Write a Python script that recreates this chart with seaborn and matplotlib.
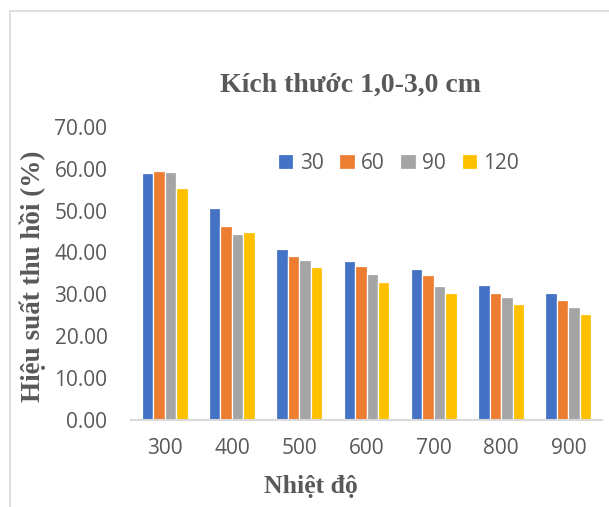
import matplotlib
matplotlib.use("Agg")
import matplotlib.pyplot as plt
from matplotlib.patches import Rectangle
import pandas as pd
import seaborn as sns

# Recovery efficiency (%) by temperature and holding time, particle size 1.0-3.0 cm
temperatures = ["300", "400", "500", "600", "700", "800", "900"]
times = ["30", "60", "90", "120"]
eff_30 = [59.1, 50.5, 40.9, 37.9, 36.1, 32.1, 30.2]
eff_60 = [59.4, 46.2, 39.1, 36.7, 34.5, 30.2, 28.5]
eff_90 = [59.3, 44.5, 38.2, 34.8, 32.0, 29.2, 26.9]
eff_120 = [55.3, 44.9, 36.4, 33.0, 30.2, 27.7, 25.2]
y_ticks = [0, 10, 20, 30, 40, 50, 60, 70]

colors = ["#4472C4", "#ED7D31", "#A5A5A5", "#FFC000"]
text_color = "#595959"

series = [eff_30, eff_60, eff_90, eff_120]
df = pd.DataFrame({
    "temp": [t for _ in times for t in temperatures],
    "time": [tm for tm in times for _ in temperatures],
    "eff": [v for s in series for v in s],
})

sns.set_theme(style="white")
plt.rcParams["font.family"] = ["Open Sans", "DejaVu Sans"]

W, H = 609, 507
fig = plt.figure(figsize=(W / 100, H / 100), dpi=100)
ax = fig.add_axes([131 / W, 1 - 419.5 / H, (602 - 131) / W, (419.5 - 127) / H])

sns.barplot(data=df, x="temp", y="eff", hue="time", order=temperatures,
            hue_order=times, palette=colors, width=0.68, saturation=1,
            edgecolor="white", linewidth=0.9, ax=ax, errorbar=None)

ax.set_ylim(0, 70)
ax.set_yticks(y_ticks)
ax.set_yticklabels([f"{v:.2f}" for v in y_ticks])
ax.set_xlim(-0.5, len(temperatures) - 0.5)
ax.tick_params(axis="both", length=0, labelsize=15, labelcolor=text_color)
ax.tick_params(axis="y", pad=17)
ax.tick_params(axis="x", pad=13)
ax.set_xlabel("")
ax.set_ylabel("")
for side in ["top", "right", "left"]:
    ax.spines[side].set_visible(False)
ax.spines["bottom"].set_color("#D9D9D9")
ax.spines["bottom"].set_linewidth(1.5)
ax.grid(False)

leg = ax.legend(loc="center", bbox_to_anchor=((398.5 - 131) / 471, 1 - (163 - 127) / 292.5),
                ncol=4, frameon=False, fontsize=15, handlelength=0.75, handleheight=0.75,
                handletextpad=0.3, columnspacing=0.75, borderaxespad=0)
for t in leg.get_texts():
    t.set_color(text_color)

serif = ["Liberation Serif", "DejaVu Serif"]
fig.text(351 / W, 1 - 85 / H, "Kích thước 1,0-3,0 cm", ha="center", va="center",
         fontsize=20, fontweight="bold", family=serif, color=text_color)
fig.text(33 / W, 1 - 276 / H, "Hiệu suất thu hồi (%)", ha="center", va="center",
         rotation=90, fontsize=19.5, fontweight="bold", family=serif, color=text_color)
fig.text(311 / W, 1 - 487 / H, "Nhiệt độ", ha="center", va="center",
         fontsize=18.5, fontweight="bold", family=serif, color=text_color)

# chart area frame
fig.patches.append(Rectangle((10 / W, -0.1), 1.2, 1 - 11 / H + 0.1,
                             transform=fig.transFigure, fill=False,
                             edgecolor="#D9D9D9", linewidth=1.2))

fig.savefig("out.png", dpi=100)
